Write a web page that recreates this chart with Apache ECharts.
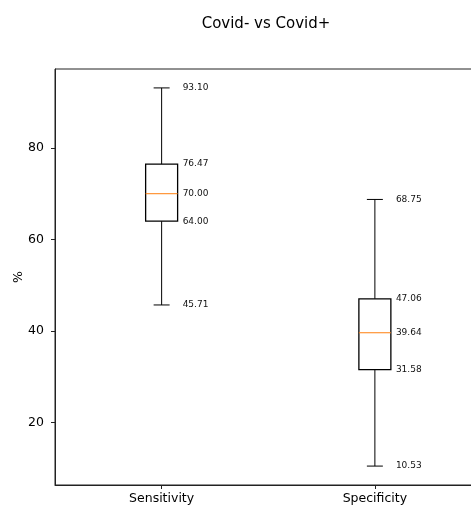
<!DOCTYPE html>
<html>
<head>
<meta charset="utf-8">
<script src="https://cdn.jsdelivr.net/npm/echarts@6/dist/echarts.min.js"></script>
<style>html,body{margin:0;padding:0;background:#fff;}#c{width:471px;height:508px;}</style>
</head>
<body>
<div id="c"></div>
<script>
const categories = ['Sensitivity', 'Specificity'];
const whiskerLow = [45.71, 10.53];
const q1 = [64.00, 31.58];
const median = [70.00, 39.64];
const q3 = [76.47, 47.06];
const whiskerHigh = [93.10, 68.75];
const yTicks = [20, 40, 60, 80];

const data = categories.map((c, i) => [i, whiskerLow[i], q1[i], median[i], q3[i], whiskerHigh[i]]);
const FONT = 'DejaVu Sans';

function renderItem(params, api) {
  const idx = api.value(0);
  const vMin = api.value(1), vQ1 = api.value(2), vMed = api.value(3), vQ3 = api.value(4), vMax = api.value(5);
  const cx = api.coord([idx, vMed])[0];
  const band = api.size([1, 0])[0];
  const bw = band * 0.15;
  const cw = bw / 2;
  const y = v => api.coord([idx, v])[1];
  const yMin = y(vMin), yQ1 = y(vQ1), yMed = y(vMed), yQ3 = y(vQ3), yMax = y(vMax);
  const stroke = {stroke: '#000', lineWidth: 1};
  const lbl = (v, yy) => ({
    type: 'text',
    style: {x: cx + 21, y: yy, text: v.toFixed(2), fill: '#111', font: '9px "DejaVu Sans"', textAlign: 'left', textVerticalAlign: 'middle'}
  });
  return {
    type: 'group',
    children: [
      {type: 'line', shape: {x1: cx, y1: yQ3, x2: cx, y2: yMax}, style: stroke},
      {type: 'line', shape: {x1: cx, y1: yQ1, x2: cx, y2: yMin}, style: stroke},
      {type: 'line', shape: {x1: cx - cw / 2, y1: yMax, x2: cx + cw / 2, y2: yMax}, style: stroke},
      {type: 'line', shape: {x1: cx - cw / 2, y1: yMin, x2: cx + cw / 2, y2: yMin}, style: stroke},
      {type: 'rect', shape: {x: cx - bw / 2, y: yQ3, width: bw, height: yQ1 - yQ3}, style: {fill: 'none', stroke: '#000', lineWidth: 1.3}},
      {type: 'line', shape: {x1: cx - bw / 2, y1: yMed, x2: cx + bw / 2, y2: yMed}, style: {stroke: '#ff7f0e', lineWidth: 1}},
      lbl(vMax, yMax), lbl(vQ3, yQ3), lbl(vMed, yMed), lbl(vQ1, yQ1), lbl(vMin, yMin)
    ]
  };
}

const chart = echarts.init(document.getElementById('c'), null, {renderer: 'canvas'});
chart.setOption({
  animation: false,
  backgroundColor: '#fff',
  title: {
    text: 'Covid- vs Covid+',
    left: 261, top: 12, textAlign: 'center',
    textStyle: {fontFamily: FONT, fontSize: 15, fontWeight: 'normal', color: '#000'}
  },
  grid: {left: 55, top: 69, right: -10.5, bottom: 23, show: true, borderColor: '#222', borderWidth: 1, backgroundColor: 'transparent', outerBoundsMode: 'none', containLabel: false},
  xAxis: {
    type: 'category', data: categories, boundaryGap: true,
    axisLine: {show: true, lineStyle: {color: '#222', width: 1}},
    axisTick: {show: true, alignWithLabel: true, length: 4, lineStyle: {color: '#222'}},
    axisLabel: {fontFamily: FONT, fontSize: 12.5, color: '#000', margin: 7}
  },
  yAxis: {
    type: 'value', min: 6.40, max: 97.23,
    name: '%', nameLocation: 'middle', nameGap: 30, nameRotate: 90, nameMoveOverlap: false,
    nameTextStyle: {fontFamily: FONT, fontSize: 12.5, color: '#000'},
    splitLine: {show: false},
    axisLine: {show: true, lineStyle: {color: '#222', width: 1}},
    axisTick: {show: true, length: 4, customValues: yTicks, lineStyle: {color: '#222'}},
    axisLabel: {fontFamily: FONT, fontSize: 12.5, color: '#000', margin: 11, customValues: yTicks}
  },
  series: [{
    type: 'custom',
    renderItem: renderItem,
    encode: {x: 0, y: [1, 2, 3, 4, 5]},
    data: data,
    clip: false
  }]
});
</script>
</body>
</html>
